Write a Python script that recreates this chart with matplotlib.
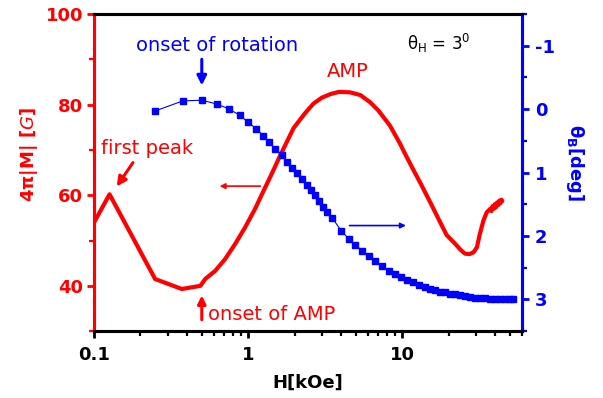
import matplotlib
matplotlib.use("Agg")
import matplotlib.pyplot as plt
from matplotlib.ticker import LogLocator, MultipleLocator, FixedLocator, NullFormatter

plt.rcParams["axes.unicode_minus"] = False

# ---- data ----
# magnetization 4pi|M| [G] vs H [kOe]
h_m = [0.1, 0.126, 0.249, 0.371, 0.49, 0.526, 0.611, 0.708, 0.822, 0.955, 1.109, 1.228,
       1.425, 1.61, 1.97, 2.34, 2.65, 3.0, 3.41, 3.88, 4.59, 5.34, 6.19, 6.99, 8.3, 9.66,
       10.4, 11.8, 13.1, 15.2, 17.1, 19.4, 22.0, 23.8, 25.5, 27.3, 29.0, 30.5, 31.7,
       33.6, 35.3, 37.2, 37.9, 38.5, 39.2, 39.8, 40.5, 41.2, 41.9, 42.6, 43.3, 44.0, 44.6]
m_val = [54.0, 60.2, 41.5, 39.3, 40.0, 41.5, 43.3, 45.9, 49.2, 52.9, 57.0, 60.2,
         64.8, 68.7, 74.8, 78.1, 80.2, 81.5, 82.3, 82.8, 82.7, 82.1, 80.5, 78.7, 75.4, 71.4,
         69.2, 65.6, 62.7, 58.4, 54.9, 51.2, 49.3, 48.0, 47.1, 47.0, 47.4, 48.5, 51.1,
         54.4, 56.2, 57.0, 56.5, 57.6, 57.0, 58.0, 57.3, 58.4, 57.8, 58.8, 58.2, 59.0, 58.7]

# rotation angle theta_B [deg] vs H [kOe]
h_t = [0.249, 0.377, 0.50, 0.626, 0.753, 0.887, 1.0, 1.13, 1.25, 1.37, 1.50, 1.65,
       1.78, 1.92, 2.07, 2.23, 2.40, 2.57, 2.72, 2.90, 3.08, 3.27, 3.50, 4.02, 4.48,
       4.95, 5.47, 6.04, 6.68, 7.38, 8.15, 9.01, 9.86, 10.8, 11.8, 12.9, 14.0, 15.2,
       16.4, 17.7, 19.0, 20.5, 22.1, 23.8, 25.6, 27.7, 29.8, 32.1, 34.6, 37.3, 40.2,
       43.3, 46.6, 50.3, 52.6]
theta = [0.03, -0.13, -0.14, -0.08, 0.00, 0.10, 0.21, 0.31, 0.42, 0.52, 0.63, 0.73,
         0.84, 0.93, 1.01, 1.10, 1.20, 1.28, 1.36, 1.45, 1.54, 1.62, 1.71, 1.92, 2.04,
         2.14, 2.23, 2.31, 2.40, 2.47, 2.55, 2.60, 2.65, 2.69, 2.73, 2.77, 2.80, 2.83,
         2.85, 2.88, 2.89, 2.91, 2.92, 2.93, 2.95, 2.96, 2.97, 2.97, 2.98, 2.99, 2.99,
         3.00, 3.00, 3.00, 3.00]

x_ticks = [0.1, 1, 10]
x_labels = ["0.1", "1", "10"]
m_ticks = [40, 60, 80, 100]
t_ticks = [-1, 0, 1, 2, 3]

RED = "#ff0000"
BLUE = "#0000ff"

fig = plt.figure(figsize=(6.03, 3.98), dpi=100)
ax = fig.add_axes([0.156, 0.168, 0.71, 0.797])
ax2 = ax.twinx()

ax.plot(h_m, m_val, color=RED, lw=3, solid_joinstyle="round", solid_capstyle="round", zorder=3)
ax2.plot(h_t, theta, color=BLUE, lw=0.8, marker="s", ms=5.0, mec=BLUE, mfc=BLUE)

ax.set_xscale("log")
ax.set_xlim(0.1, 60)
ax.set_ylim(30, 100)
ax2.set_ylim(3.5, -1.5)

ax.set_xticks(x_ticks)
ax.set_xticklabels(x_labels)
ax.xaxis.set_minor_locator(LogLocator(base=10, subs=range(2, 10)))
ax.xaxis.set_minor_formatter(NullFormatter())
ax.yaxis.set_major_locator(FixedLocator(m_ticks))
ax.yaxis.set_minor_locator(MultipleLocator(10))
ax2.yaxis.set_major_locator(FixedLocator(t_ticks))
ax2.yaxis.set_minor_locator(MultipleLocator(0.5))

for a in (ax, ax2):
    for s in a.spines.values():
        s.set_linewidth(2.2)
    a.spines["left"].set_color(RED)
    a.spines["right"].set_color(BLUE)

ax.tick_params(axis="x", which="major", direction="out", length=5, width=2, color="black",
               labelsize=13, pad=6)
ax.tick_params(axis="x", which="minor", direction="out", length=3.5, width=1.6, color="black")
ax.tick_params(axis="y", which="major", direction="out", length=5, width=2, colors=RED,
               labelsize=13, pad=3)
ax.tick_params(axis="y", which="minor", direction="out", length=3.5, width=1.6, color=RED)
ax2.tick_params(axis="y", which="major", direction="out", length=5, width=2, colors=BLUE,
                labelsize=13, pad=4)
ax2.tick_params(axis="y", which="minor", direction="out", length=3.5, width=1.6, color=BLUE)
for lab in ax.get_xticklabels() + ax.get_yticklabels() + ax2.get_yticklabels():
    lab.set_fontweight("bold")

ax.set_xlabel("H[kOe]", fontsize=13, fontweight="bold", labelpad=7)
ax.set_ylabel(r"4π|M| [$\it{G}$]", fontsize=13, fontweight="bold", color=RED)
ax.yaxis.set_label_coords(-0.126, 0.558)
ax2.set_ylabel(r"θ$_\mathregular{B}$[deg]", fontsize=13, fontweight="bold", color=BLUE,
               rotation=270)
ax2.yaxis.set_label_coords(1.15, 0.53)

# annotations
ax.text(0.63, 93.1, "onset of rotation", color=BLUE, fontsize=14, ha="center", va="center")
ax.annotate("", xy=(0.50, 83.6), xytext=(0.50, 90.6),
            arrowprops=dict(arrowstyle="-|>", color=BLUE, lw=2.2, mutation_scale=14))
ax.text(4.42, 87.2, "AMP", color=RED, fontsize=14, ha="center", va="center")
ax.text(0.804, 0.908, r"θ$_\mathregular{H}$ = 3$^\mathregular{0}$", transform=ax.transAxes,
        fontsize=12, ha="center", va="center")
ax.text(0.22, 70.3, "first peak", color=RED, fontsize=14, ha="center", va="center")
ax.annotate("", xy=(0.137, 61.4), xytext=(0.183, 67.7),
            arrowprops=dict(arrowstyle="-|>", color=RED, lw=2.2, mutation_scale=14))
ax.annotate("", xy=(0.626, 62.0), xytext=(1.25, 62.0),
            arrowprops=dict(arrowstyle="-|>", color=RED, lw=1.2, mutation_scale=8))
ax.annotate("", xy=(11.0, 53.3), xytext=(4.36, 53.3),
            arrowprops=dict(arrowstyle="-|>", color=BLUE, lw=1.2, mutation_scale=8))
ax.annotate("", xy=(0.50, 38.5), xytext=(0.50, 31.9),
            arrowprops=dict(arrowstyle="-|>", color=RED, lw=2.2, mutation_scale=12))
ax.text(0.55, 33.6, "onset of AMP", color=RED, fontsize=14, ha="left", va="center")

plt.savefig("out.png", dpi=100)
